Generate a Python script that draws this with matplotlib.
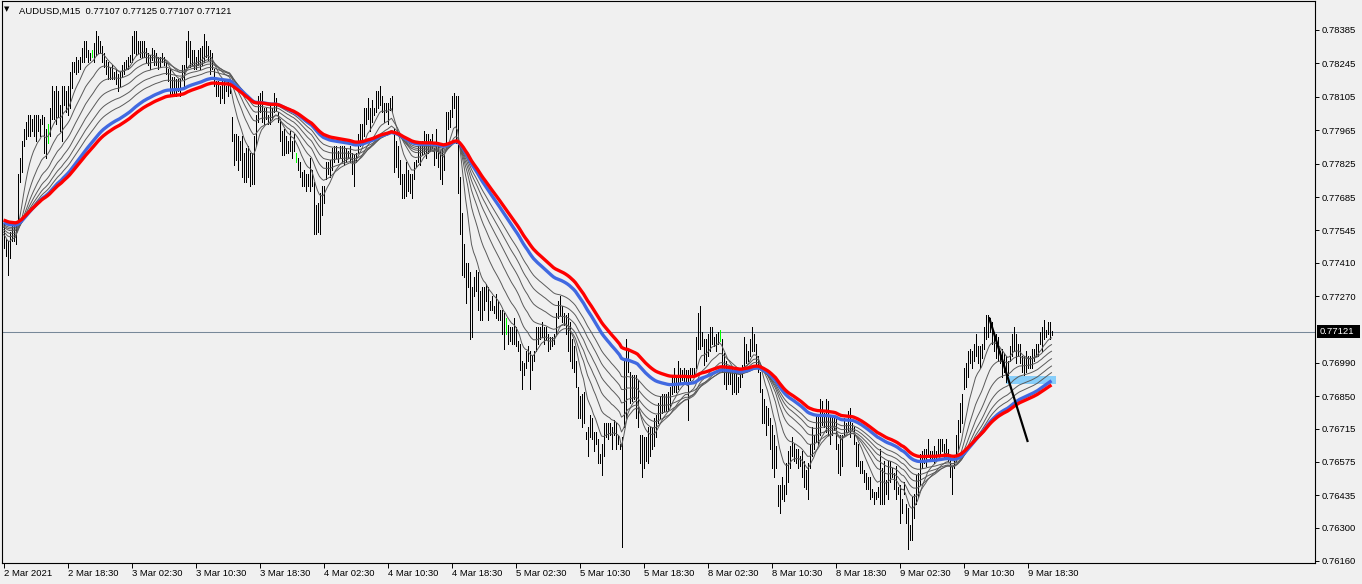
import matplotlib
matplotlib.use("Agg")
import matplotlib.pyplot as plt
from matplotlib.patches import Rectangle
import matplotlib.transforms as mtransforms
import numpy as np
import pandas as pd

W, H = 1362, 584
BASE = 0.7600  # bar values below are pips above 0.7600

hi_pips = [
    157, 151, 150, 154, 157, 158, 158, 178, 185, 192,
    197, 200, 203, 203, 201, 203, 203, 203, 201, 203,
    202, 197, 199, 206, 215, 213, 215, 213, 207, 215,
    215, 213, 215, 221, 225, 225, 227, 226, 227, 231,
    234, 234, 230, 229, 230, 233, 238, 236, 234, 232,
    229, 226, 225, 223, 224, 221, 222, 220, 221, 224,
    225, 226, 227, 228, 236, 238, 238, 234, 234, 234,
    234, 231, 229, 228, 231, 230, 229, 227, 227, 229,
    227, 225, 222, 222, 219, 219, 218, 218, 218, 224,
    224, 234, 238, 234, 230, 230, 227, 230, 231, 232,
    237, 234, 232, 230, 229, 222, 217, 217, 215, 218,
    217, 215, 217, 217, 202, 195, 195, 194, 192, 194,
    187, 189, 190, 187, 187, 194, 203, 211, 212, 213,
    206, 206, 203, 207, 206, 212, 210, 204, 201, 196,
    197, 194, 192, 196, 192, 195, 187, 185, 183, 179,
    180, 178, 178, 185, 180, 175, 165, 166, 170, 173,
    173, 183, 183, 184, 189, 190, 190, 188, 190, 190,
    190, 189, 188, 190, 187, 186, 187, 195, 199, 199,
    206, 206, 210, 206, 209, 206, 213, 213, 215, 211,
    208, 208, 208, 210, 211, 197, 192, 190, 184, 178,
    178, 183, 180, 178, 178, 183, 184, 190, 190, 192,
    196, 195, 195, 193, 195, 189, 197, 190, 188, 189,
    186, 204, 204, 205, 211, 212, 211, 211, 177, 162,
    149, 141, 141, 137, 131, 135, 138, 137, 129, 131,
    131, 132, 131, 125, 127, 123, 128, 125, 121, 121,
    120, 118, 115, 114, 114, 118, 114, 108, 107, 100,
    99, 104, 106, 104, 102, 104, 114, 114, 114, 116,
    114, 114, 111, 110, 110, 111, 120, 125, 127, 123,
    120, 119, 120, 116, 109, 106, 100, 89, 85, 86,
    87, 70, 72, 77, 76, 70, 70, 67, 61, 65,
    74, 74, 74, 74, 72, 75, 74, 69, 65, 68,
    100, 109, 105, 95, 94, 94, 94, 92, 69, 69,
    68, 68, 72, 72, 72, 76, 77, 82, 85, 86,
    86, 86, 87, 89, 93, 97, 94, 100, 97, 96,
    97, 96, 96, 97, 97, 97, 110, 120, 123, 112,
    109, 109, 111, 114, 114, 110, 111, 112, 113, 109,
    103, 100, 95, 97, 97, 96, 95, 93, 95, 98,
    110, 107, 104, 109, 114, 111, 107, 102, 95, 88,
    84, 81, 80, 76, 73, 69, 64, 48, 48, 51,
    48, 57, 62, 64, 68, 65, 63, 63, 60, 62,
    58, 54, 57, 65, 72, 69, 77, 77, 84, 83,
    78, 84, 83, 77, 77, 77, 76, 65, 69, 69,
    76, 74, 79, 80, 74, 72, 66, 65, 58, 58,
    54, 53, 51, 51, 46, 45, 45, 47, 63, 55,
    58, 50, 58, 58, 55, 53, 56, 47, 48, 42,
    49, 40, 38, 31, 43, 44, 52, 53, 61, 62,
    63, 63, 67, 62, 62, 64, 62, 67, 67, 67,
    65, 67, 63, 59, 56, 60, 69, 75, 82, 86,
    97, 99, 104, 105, 104, 107, 111, 106, 106, 107,
    114, 119, 119, 118, 116, 112, 111, 110, 104, 105,
    103, 102, 100, 106, 111, 114, 111, 107, 107, 102,
    102, 104, 102, 102, 105, 105, 107, 107, 112, 114,
    117, 113, 116, 116, 112.5,
]

lo_pips = [
    147, 144, 136, 143, 150, 150, 149, 159, 175, 179,
    190, 193, 194, 194, 196, 194, 192, 196, 194, 199,
    187, 185, 191, 194, 201, 201, 199, 202, 196, 192,
    207, 204, 203, 206, 214, 221, 220, 221, 222, 225,
    225, 227, 225, 226, 227, 225, 228, 229, 229, 225,
    223, 220, 218, 218, 218, 218, 216, 213, 215, 219,
    220, 222, 222, 225, 225, 229, 228, 229, 227, 227,
    227, 225, 224, 222, 226, 224, 224, 222, 223, 225,
    224, 220, 217, 211, 211, 212, 211, 213, 211, 218,
    214, 223, 227, 223, 224, 222, 222, 224, 222, 224,
    225, 227, 226, 220, 222, 215, 211, 211, 208, 210,
    208, 213, 211, 212, 192, 182, 184, 180, 184, 177,
    175, 175, 177, 173, 174, 174, 190, 200, 204, 200,
    199, 201, 199, 199, 201, 204, 205, 200, 192, 186,
    186, 187, 187, 188, 185, 188, 183, 180, 177, 173,
    173, 171, 173, 171, 173, 153, 153, 154, 153, 161,
    166, 176, 178, 177, 180, 183, 185, 183, 185, 183,
    182, 183, 185, 183, 178, 173, 183, 187, 190, 192,
    194, 199, 201, 196, 200, 203, 204, 206, 207, 204,
    200, 204, 199, 205, 204, 179, 181, 177, 174, 168,
    168, 169, 171, 170, 168, 176, 181, 183, 182, 186,
    187, 185, 187, 188, 189, 182, 185, 181, 176, 174,
    180, 190, 197, 198, 202, 206, 191, 170, 153, 136,
    135, 124, 131, 109, 110, 127, 129, 121, 117, 117,
    121, 125, 117, 121, 121, 120, 118, 117, 117, 111,
    105, 111, 107, 108, 107, 107, 106, 104, 96, 88,
    94, 97, 100, 88, 96, 100, 104, 107, 109, 110,
    107, 109, 104, 105, 106, 107, 111, 118, 119, 116,
    115, 111, 104, 100, 97, 95, 89, 76, 76, 72,
    74, 67, 60, 68, 67, 62, 65, 57, 57, 52,
    60, 68, 67, 69, 63, 69, 63, 65, 63, 22,
    72, 76, 95, 82, 83, 84, 76, 72, 57, 51,
    55, 58, 57, 60, 63, 64, 68, 74, 76, 78,
    79, 79, 79, 81, 86, 87, 87, 88, 90, 92,
    91, 90, 75, 92, 93, 93, 97, 105, 105, 106,
    98, 100, 102, 104, 107, 106, 104, 107, 108, 95,
    90, 88, 90, 90, 86, 87, 86, 87, 89, 93,
    97, 99, 100, 102, 104, 104, 97, 95, 87, 74,
    74, 69, 73, 63, 55, 51, 55, 39, 36, 42,
    41, 44, 49, 55, 60, 58, 57, 55, 56, 51,
    47, 46, 42, 55, 60, 63, 66, 65, 69, 73,
    72, 70, 69, 65, 69, 71, 63, 53, 52, 56,
    69, 70, 70, 68, 71, 65, 56, 56, 53, 53,
    49, 46, 46, 42, 43, 40, 42, 43, 40, 40,
    40, 44, 42, 49, 51, 46, 42, 44, 32, 36,
    44, 32, 21, 25, 25, 34, 40, 43, 48, 55,
    57, 56, 60, 58, 58, 57, 59, 60, 61, 62,
    59, 60, 58, 51, 44, 55, 58, 62, 70, 74,
    88, 89, 93, 99, 97, 100, 102, 99, 97, 101,
    105, 109, 110, 112, 107, 104, 101, 100, 99, 93,
    95, 91, 94, 100, 102, 104, 99, 102, 99, 95,
    94, 95, 97, 97, 97, 100, 102, 102, 107, 104,
    109, 110, 111, 109, 110.7,
]

doji_bars = [22, 44, 146, 251, 358]

thin_periods = [10, 20, 30, 40, 50, 60]
thin_seeds = [153.0, 154.0, 155.0, 156.0, 156.5, 157.0]
blue_period, blue_seed = 75, 158.0
red_period, red_seed = 85, 159.0

price_ticks = [0.78385, 0.78245, 0.78105, 0.77965, 0.77825, 0.77685, 0.77545,
               0.77410, 0.77270, 0.76990, 0.76850, 0.76715, 0.76575, 0.76435,
               0.76300, 0.76160]
date_ticks = [0, 32, 64, 96, 128, 160, 192, 224, 256, 288, 320, 352, 384, 416,
              448, 480, 512]
date_labels = ["2 Mar 2021", "2 Mar 18:30", "3 Mar 02:30", "3 Mar 10:30",
               "3 Mar 18:30", "4 Mar 02:30", "4 Mar 10:30", "4 Mar 18:30",
               "5 Mar 02:30", "5 Mar 10:30", "5 Mar 18:30", "8 Mar 02:30",
               "8 Mar 10:30", "8 Mar 18:30", "9 Mar 02:30", "9 Mar 10:30",
               "9 Mar 18:30"]
symbol = "AUDUSD,M15"
last_ohlc = [0.77107, 0.77125, 0.77107, 0.77121]
trend_bars = [492.9, 512.0]
trend_prices = [0.77177, 0.76663]
zone_bars = [501, 526]
zone_prices = [0.76903, 0.76937]

assert len(hi_pips) == len(lo_pips)

hi = BASE + np.array(hi_pips, dtype=float) / 10000.0
lo = BASE + np.array(lo_pips, dtype=float) / 10000.0
mid = (hi + lo) / 2.0
x = np.arange(len(hi))


def ema(values, period, seed_pips):
    s = pd.Series(np.concatenate([[BASE + seed_pips / 10000.0], values]))
    return s.ewm(span=period, adjust=False).mean().to_numpy()[1:]


BG = "#F0F0F0"
FONT = "Liberation Sans"
plt.rcParams["font.family"] = [FONT, "DejaVu Sans"]

fig = plt.figure(figsize=(W / 100, H / 100), dpi=100, facecolor=BG)
ax = fig.add_axes([2 / W, (H - 562.5) / H, 1313 / W, 561.5 / H])
ax.set_facecolor(BG)
ax.set_xlim(-0.75, 655.75)
ax.set_ylim(0.761537, 0.785065)

# current price line
ax.axhline(last_ohlc[3], color="#778899", lw=0.75, zorder=1)

# rectangle object (background)
ax.add_patch(Rectangle((zone_bars[0], zone_prices[0]), zone_bars[1] - zone_bars[0],
                       zone_prices[1] - zone_prices[0], facecolor="#87CEFA",
                       edgecolor="none", zorder=1.5))

# bars
cols = ["#00FF00" if i in doji_bars else "black" for i in x]
ax.vlines(x, lo, hi, colors=cols, linewidth=0.72, antialiased=False, zorder=2)

# moving averages
for per, sd in zip(thin_periods, thin_seeds):
    ax.plot(x, ema(mid, per, sd), color="#5a5a5a", lw=0.7, zorder=3)
ax.plot(x, ema(mid, blue_period, blue_seed), color="#4169E1", lw=2.4, zorder=4,
        solid_capstyle="butt")
ax.plot(x, ema(mid, red_period, red_seed), color="#FF0000", lw=2.4, zorder=5,
        solid_capstyle="butt")

# trend line
ax.plot(trend_bars, trend_prices, color="black", lw=1.6, zorder=6)

# frame
for sp in ax.spines.values():
    sp.set_color("black")
    sp.set_linewidth(0.8)

# y axis on right
ax.yaxis.tick_right()
ax.set_yticks(price_ticks)
ax.set_yticklabels([f"{v:.5f}" for v in price_ticks])
ax.tick_params(axis="y", direction="out", length=3, width=0.7, pad=2,
               labelsize=6.8, colors="black")

# x axis ticks with left aligned labels
ax.set_xticks(date_ticks)
ax.set_xticklabels([])
ax.tick_params(axis="x", direction="out", length=3.5, width=0.7)
trans = mtransforms.blended_transform_factory(ax.transData, ax.transAxes)
for t, lab in zip(date_ticks, date_labels):
    ax.text(t + 0.3, -11 / 561.5, lab, transform=trans, ha="left", va="center",
            fontsize=6.8, color="black")

# current price box
fig.canvas.draw()
ypix = ax.transData.transform((0, last_ohlc[3]))[1]
fig.patches.append(Rectangle((1317 / W, (ypix - 6.5) / H), 43 / W, 13 / H,
                             transform=fig.transFigure, facecolor="black",
                             edgecolor="none", zorder=10))
fig.text(1320 / W, ypix / H, f"{last_ohlc[3]:.5f}", color="white", fontsize=6.8,
         va="center", ha="left", zorder=11)

# header
fig.text(4 / W, 1 - 9 / H, "\u25BC", fontsize=5, family="DejaVu Sans",
         va="center", ha="left", color="black")
fig.text(19 / W, 1 - 11 / H,
         f"{symbol}  " + " ".join(f"{v:.5f}" for v in last_ohlc),
         fontsize=6.8, va="center", ha="left", color="black")

fig.savefig("out.png", dpi=100, facecolor=BG)
